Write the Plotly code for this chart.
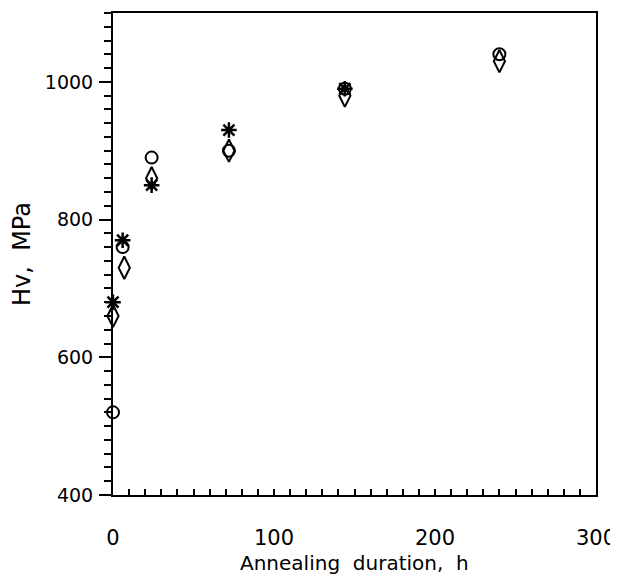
import plotly.graph_objects as go

# Data
circle_x = [0, 6, 24, 72, 144, 240]
circle_y = [520, 760, 890, 900, 990, 1040]
star_x = [0, 6, 24, 72, 144]
star_y = [680, 770, 850, 930, 990]
diamond_x = [0, 7, 24, 72, 144, 240]
diamond_y = [660, 730, 860, 900, 980, 1030]

x_ticks = [0, 100, 200, 300]
y_ticks = [400, 600, 800, 1000]
x_title = "Annealing\u00a0\u00a0duration,\u00a0\u00a0h"
y_title = "Hv,\u00a0\u00a0MPa"

fig = go.Figure()
fig.add_trace(go.Scatter(x=circle_x, y=circle_y, mode="markers", cliponaxis=False,
                         marker=dict(symbol="circle-open", size=12, color="black",
                                     line=dict(width=2, color="black")), showlegend=False))
fig.add_trace(go.Scatter(x=diamond_x, y=diamond_y, mode="markers", cliponaxis=False,
                         marker=dict(symbol="diamond-tall-open", size=16, color="black",
                                     line=dict(width=2, color="black")), showlegend=False))
fig.add_trace(go.Scatter(x=star_x, y=star_y, mode="markers", cliponaxis=False,
                         marker=dict(symbol="asterisk-open", size=13, color="black",
                                     line=dict(width=2.5, color="black")), showlegend=False))

font = "DejaVu Sans, Arial, sans-serif"
fig.update_layout(
    width=610, height=567,
    margin=dict(l=105, r=22, t=5, b=80),
    plot_bgcolor="white", paper_bgcolor="white",
    font=dict(family=font, size=19, color="black"),
    xaxis=dict(range=[0, 300], tickvals=x_ticks, ticks="inside", ticklen=6, tickwidth=2,
               tickcolor="black", showline=True, linewidth=2, linecolor="black", mirror=True,
               showgrid=False, zeroline=False, ticklabelstandoff=23, tickfont=dict(size=21),
               automargin=False, ticklabeloverflow="allow",
               minor=dict(dtick=10, ticks="inside", ticklen=6, tickwidth=2, tickcolor="black")),
    yaxis=dict(range=[400, 1100], tickvals=y_ticks, ticks="outside", ticklen=12, tickwidth=2,
               tickcolor="black", showline=True, linewidth=2, linecolor="black", mirror=True,
               showgrid=False, zeroline=False, ticklabelstandoff=2, tickfont=dict(size=19),
               automargin=False, ticklabeloverflow="allow",
               minor=dict(dtick=20, ticks="outside", ticklen=7, tickwidth=2, tickcolor="black")),
    annotations=[
        dict(text=x_title, xref="paper", yref="paper", x=0.5, y=0, xanchor="center",
             yanchor="middle", yshift=-68, showarrow=False, font=dict(size=20)),
        dict(text=y_title, xref="paper", yref="paper", x=0, y=0.5, xanchor="center",
             yanchor="middle", xshift=-91, textangle=-90, showarrow=False, font=dict(size=24)),
    ],
)
fig.write_html("out.html")
